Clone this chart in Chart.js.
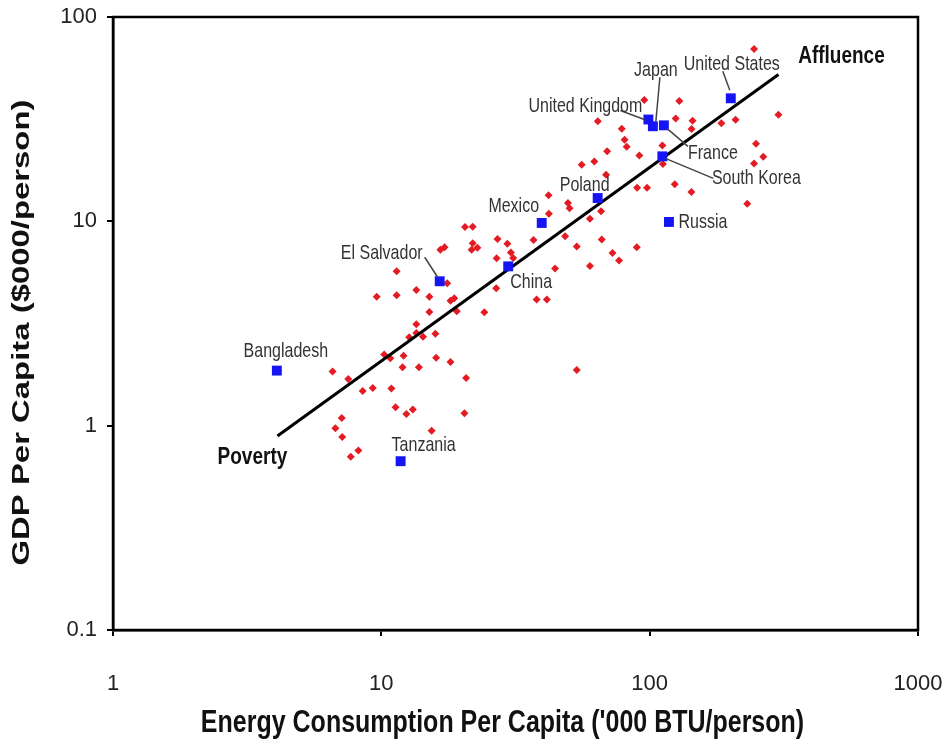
<!DOCTYPE html>
<html>
<head>
<meta charset="utf-8">
<script src="https://cdn.jsdelivr.net/npm/chart.js@4"></script>
<style>
  body { margin: 0; background: #fff; }
</style>
</head>
<body>
<canvas id="chart" width="944" height="748"></canvas>
<script>
// axis ticks
const xTicks = [1, 10, 100, 1000];
const yTicks = [0.1, 1, 10, 100];

// all other countries (red diamonds)
const otherEnergy = [6.58, 7.53, 8.52, 9.29, 10.9, 10.25, 10.8, 12.1, 12.0, 13.8, 16.0, 18.1, 20.7, 11.3, 12.4, 13.1, 20.4, 7.12, 6.74, 7.15,
  15.4, 8.21, 7.69, 12.7, 13.5, 14.3, 15.9, 13.5, 15.1, 19.1, 24.2, 9.61, 11.4, 13.5, 15.1, 18.1, 18.7, 17.6, 11.4, 16.6,
  17.2, 20.5, 21.9, 21.9, 22.8, 21.7, 27.1, 29.5, 30.4, 31.0, 26.9, 26.8, 37.9, 41.4, 53.5, 36.9, 42.0, 44.4, 42.1, 49.6,
  50.3, 48.4, 59.9, 65.9, 66.3, 53.5, 72.7, 76.9, 59.9, 89.5, 55.8, 62.2, 68.8, 69.4, 64.1, 78.7, 80.6, 82.1, 91.5, 111.5,
  112, 95.5, 129, 125, 144.5, 143.3, 185, 209, 302, 245, 249, 265, 245, 231, 124, 143, 89.8, 97.8];
const otherGdp = [1.84, 1.69, 1.48, 1.53, 1.52, 2.23, 2.14, 2.20, 1.93, 1.93, 2.15, 2.05, 1.71, 1.23, 1.14, 1.20, 1.15, 1.09, 0.97, 0.88,
  0.945, 0.755, 0.705, 2.71, 2.84, 2.72, 2.82, 3.14, 3.60, 3.63, 3.59, 4.28, 4.35, 4.61, 4.28, 4.09, 4.20, 4.98, 5.69, 7.27,
  7.46, 9.39, 9.42, 7.82, 7.43, 7.27, 8.20, 7.76, 7.03, 6.62, 6.60, 4.71, 4.14, 4.14, 1.87, 8.11, 13.4, 5.87, 10.9, 12.3,
  11.6, 8.46, 10.3, 11.2, 8.14, 7.54, 7.00, 6.44, 6.05, 7.47, 18.9, 19.6, 16.9, 22.0, 30.9, 28.4, 25.1, 23.2, 21.0, 23.5,
  19.1, 39.2, 38.8, 31.9, 31.1, 28.3, 30.2, 31.4, 33.2, 69.8, 24.0, 20.7, 19.2, 12.2, 15.2, 13.9, 14.6, 14.6];

// highlighted countries (blue squares)
const countryNames = ['Bangladesh', 'Tanzania', 'El Salvador', 'China', 'Mexico', 'Poland', 'Russia', 'South Korea', 'United Kingdom', 'Japan', 'France', 'United States'];
const countryEnergy = [4.08, 11.8, 16.5, 29.7, 39.6, 64.0, 118, 111.5, 98.9, 102.8, 113, 200.6];
const countryGdp = [1.86, 0.67, 5.09, 6.02, 9.82, 13.0, 9.93, 20.8, 31.5, 29.2, 29.5, 40.0];

// trend line end points
const trendEnergy = [4.1, 302];
const trendGdp = [0.89, 52.3];

// axis titles
const xTitle = "Energy Consumption Per Capita ('000 BTU/person)";
const yTitle = 'GDP Per Capita ($000/person)';

// label placement (pixel offsets from the point, optional leader line)
const labelLayout = {
  'Bangladesh': { dx: 9, dy: -19 },
  'Tanzania': { dx: 23, dy: -16 },
  'El Salvador': { dx: -58, dy: -28, leader: [-15, -24, -2, -4] },
  'China': { dx: 23, dy: 16 },
  'Mexico': { dx: -28, dy: -17 },
  'Poland': { dx: -13, dy: -13 },
  'Russia': { dx: 34, dy: 0 },
  'South Korea': { dx: 94, dy: 22, leader: [3, 2, 51, 22] },
  'United Kingdom': { dx: -63, dy: -13, leader: [-28, -9, -4, 0] },
  'Japan': { dx: 3, dy: -56, leader: [7, -49, 3, -5] },
  'France': { dx: 49, dy: 28, leader: [3, 3, 24, 21] },
  'United States': { dx: 1, dy: -34, leader: [-8, -27, -1, -8] }
};

const fontFamily = "'Liberation Sans', Arial, sans-serif";
const stretch = 1.28; // the source picture is a bit taller than wide

function tallText(ctx, text, x, y) {
  ctx.save();
  ctx.translate(x, y);
  ctx.scale(1, stretch);
  ctx.fillText(text, 0, 0);
  ctx.restore();
}

const labelPlugin = {
  id: 'labels',
  afterDatasetsDraw(chart) {
    const ctx = chart.ctx;
    const xs = chart.scales.x;
    const ys = chart.scales.y;
    ctx.save();
    ctx.textAlign = 'center';
    ctx.textBaseline = 'middle';
    countryNames.forEach((name, i) => {
      const px = xs.getPixelForValue(countryEnergy[i]);
      const py = ys.getPixelForValue(countryGdp[i]);
      const lay = labelLayout[name];
      if (lay.leader) {
        ctx.strokeStyle = '#444';
        ctx.lineWidth = 1.5;
        ctx.beginPath();
        ctx.moveTo(px + lay.leader[0], py + lay.leader[1]);
        ctx.lineTo(px + lay.leader[2], py + lay.leader[3]);
        ctx.stroke();
      }
      ctx.fillStyle = '#333';
      ctx.font = '16px ' + fontFamily;
      tallText(ctx, name, px + lay.dx, py + lay.dy);
    });
    // ends of the trend line
    ctx.fillStyle = '#111';
    ctx.font = 'bold 19px ' + fontFamily;
    tallText(ctx, 'Poverty', xs.getPixelForValue(trendEnergy[0]) - 25, ys.getPixelForValue(trendGdp[0]) + 21);
    tallText(ctx, 'Affluence', xs.getPixelForValue(trendEnergy[1]) + 63, ys.getPixelForValue(trendGdp[1]) - 18);
    ctx.restore();
  },
  afterDraw(chart) {
    const a = chart.chartArea;
    const ctx = chart.ctx;
    ctx.save();
    ctx.strokeStyle = '#000';
    ctx.lineWidth = 2.5;
    ctx.strokeRect(a.left, a.top, a.right - a.left, a.bottom - a.top);

    // axis titles
    ctx.fillStyle = '#111';
    ctx.textAlign = 'center';
    ctx.textBaseline = 'middle';
    ctx.font = 'bold 25px ' + fontFamily;
    tallText(ctx, xTitle, (a.left + a.right) / 2 - 13, chart.height - 25);

    ctx.translate(22, (a.top + a.bottom) / 2 + 9);
    ctx.rotate(-Math.PI / 2);
    ctx.scale(1.37, 1);
    ctx.font = 'bold 24px ' + fontFamily;
    ctx.fillText(yTitle, 0, 0);
    ctx.restore();
  }
};

const chart = new Chart(document.getElementById('chart'), {
  type: 'scatter',
  data: {
    datasets: [
      {
        label: 'Countries',
        data: countryEnergy.map((v, i) => ({ x: v, y: countryGdp[i] })),
        pointStyle: 'rect',
        pointRadius: 7,
        backgroundColor: '#1414f5',
        borderColor: '#1414f5',
        borderWidth: 0,
        order: 0
      },
      {
        label: 'Trend',
        type: 'line',
        data: trendEnergy.map((v, i) => ({ x: v, y: trendGdp[i] })),
        borderColor: '#000',
        borderWidth: 3,
        pointRadius: 0,
        fill: false,
        order: 1
      },
      {
        label: 'Others',
        data: otherEnergy.map((v, i) => ({ x: v, y: otherGdp[i] })),
        pointStyle: 'rectRot',
        pointRadius: 4,
        backgroundColor: '#e41b23',
        borderColor: '#e41b23',
        borderWidth: 0,
        order: 2
      }
    ]
  },
  options: {
    responsive: false,
    animation: false,
    layout: { padding: { top: 17, right: 26, left: 0, bottom: 0 } },
    plugins: {
      legend: { display: false },
      tooltip: { enabled: false }
    },
    scales: {
      x: {
        type: 'logarithmic',
        min: 1,
        max: 1000,
        afterBuildTicks: (scale) => { scale.ticks = xTicks.map(v => ({ value: v })); },
        afterFit: (scale) => {
          scale.height = 118;
          scale.paddingLeft = 0;
          scale.paddingRight = 0;
        },
        ticks: {
          color: '#222',
          font: { family: fontFamily, size: 22 },
          padding: 35,
          maxRotation: 0,
          autoSkip: false,
          callback: (v) => String(v)
        },
        grid: { drawOnChartArea: false, color: '#000', lineWidth: 2, tickLength: 6 },
        border: { color: '#000', width: 2.5 },
        title: { display: false }
      },
      y: {
        type: 'logarithmic',
        min: 0.1,
        max: 100,
        afterBuildTicks: (scale) => { scale.ticks = yTicks.map(v => ({ value: v })); },
        afterFit: (scale) => {
          scale.width = 113;
          scale.paddingTop = 0;
          scale.paddingBottom = 0;
        },
        ticks: {
          color: '#222',
          font: { family: fontFamily, size: 22 },
          padding: 10,
          autoSkip: false,
          callback: (v) => String(v)
        },
        grid: { drawOnChartArea: false, color: '#000', lineWidth: 2, tickLength: 6 },
        border: { color: '#000', width: 2.5 },
        title: { display: false }
      }
    }
  },
  plugins: [labelPlugin]
});
</script>
</body>
</html>
